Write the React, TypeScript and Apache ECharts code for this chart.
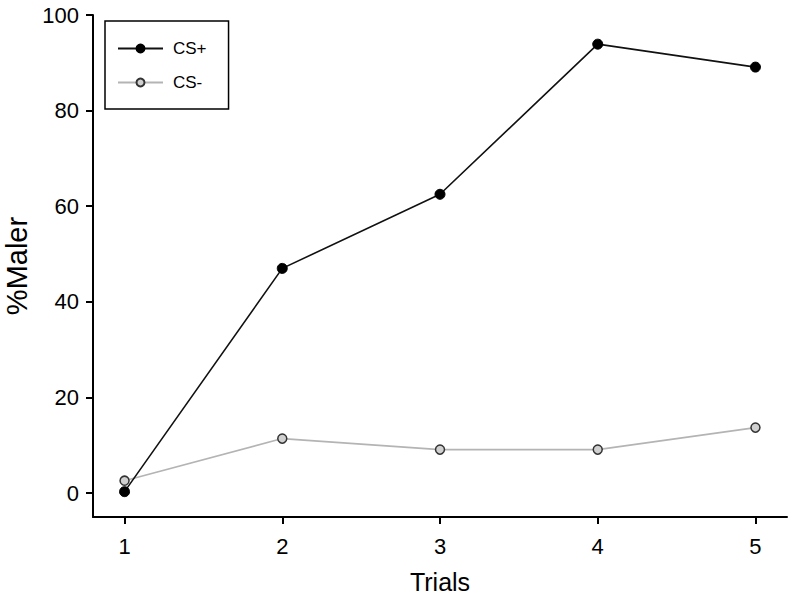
import React, { useEffect, useRef } from "react";
import * as echarts from "echarts";

const trials = [1, 2, 3, 4, 5];
const csPlus = [0.3, 47.0, 62.5, 93.9, 89.1];
const csMinus = [2.6, 11.4, 9.1, 9.1, 13.7];
const yTicks = [0, 20, 40, 60, 80, 100];
const xTicks = [1, 2, 3, 4, 5];

const FONT = "Liberation Sans, Arial, sans-serif";

export default function App() {
  const ref = useRef<HTMLDivElement>(null);
  useEffect(() => {
    if (!ref.current) return;
    const chart = echarts.init(ref.current, null, { renderer: "svg" });
    chart.setOption({
      animation: false,
      backgroundColor: "#ffffff",
      grid: { left: 93, top: 15, right: 4, bottom: 82, outerBoundsMode: "none", containLabel: false },
      legend: {
        left: 105,
        top: 21,
        orient: "vertical",
        borderColor: "#000",
        borderWidth: 1.5,
        padding: [19, 22, 18, 12],
        itemWidth: 45,
        itemHeight: 10,
        itemGap: 17,
        textStyle: { fontFamily: FONT, fontSize: 17, color: "#000", padding: [0, 0, 0, 5] },
        data: ["CS+", "CS-"],
      },
      xAxis: {
        type: "value",
        min: 0.8,
        max: 5.2,
        name: "Trials",
        nameLocation: "middle",
        nameGap: 52,
        nameTextStyle: { fontFamily: FONT, fontSize: 25, color: "#000" },
        axisLine: { show: true, onZero: false, lineStyle: { color: "#000", width: 2 } },
        axisTick: { show: true, length: 7, lineStyle: { color: "#000", width: 2 }, customValues: xTicks },
        axisLabel: { fontFamily: FONT, fontSize: 22, color: "#000", margin: 18, customValues: xTicks },
        splitLine: { show: false },
      },
      yAxis: {
        type: "value",
        min: -5,
        max: 100,
        name: "%Maler",
        nameLocation: "middle",
        nameGap: 61,
        nameTextStyle: { fontFamily: FONT, fontSize: 29, color: "#000" },
        axisLine: { show: true, onZero: false, lineStyle: { color: "#000", width: 2 } },
        axisTick: { show: true, length: 7, lineStyle: { color: "#000", width: 2 }, customValues: yTicks },
        axisLabel: { fontFamily: FONT, fontSize: 22, color: "#000", margin: 14, customValues: yTicks },
        splitLine: { show: false },
      },
      series: [
        {
          name: "CS+",
          type: "line",
          data: trials.map((t, i) => [t, csPlus[i]]),
          symbol: "circle",
          symbolSize: 10,
          lineStyle: { color: "#111", width: 1.6 },
          itemStyle: { color: "#000", borderColor: "#000", borderWidth: 1 },
          z: 3,
        },
        {
          name: "CS-",
          type: "line",
          data: trials.map((t, i) => [t, csMinus[i]]),
          symbol: "circle",
          symbolSize: 9,
          lineStyle: { color: "#b4b4b4", width: 1.6 },
          itemStyle: { color: "#d0d0d0", borderColor: "#333", borderWidth: 1.5 },
          z: 2,
        },
      ],
    });
    return () => chart.dispose();
  }, []);
  return (
    <div
      ref={ref}
      style={{ position: "fixed", left: 0, top: 0, width: 791, height: 599 }}
    />
  );
}
